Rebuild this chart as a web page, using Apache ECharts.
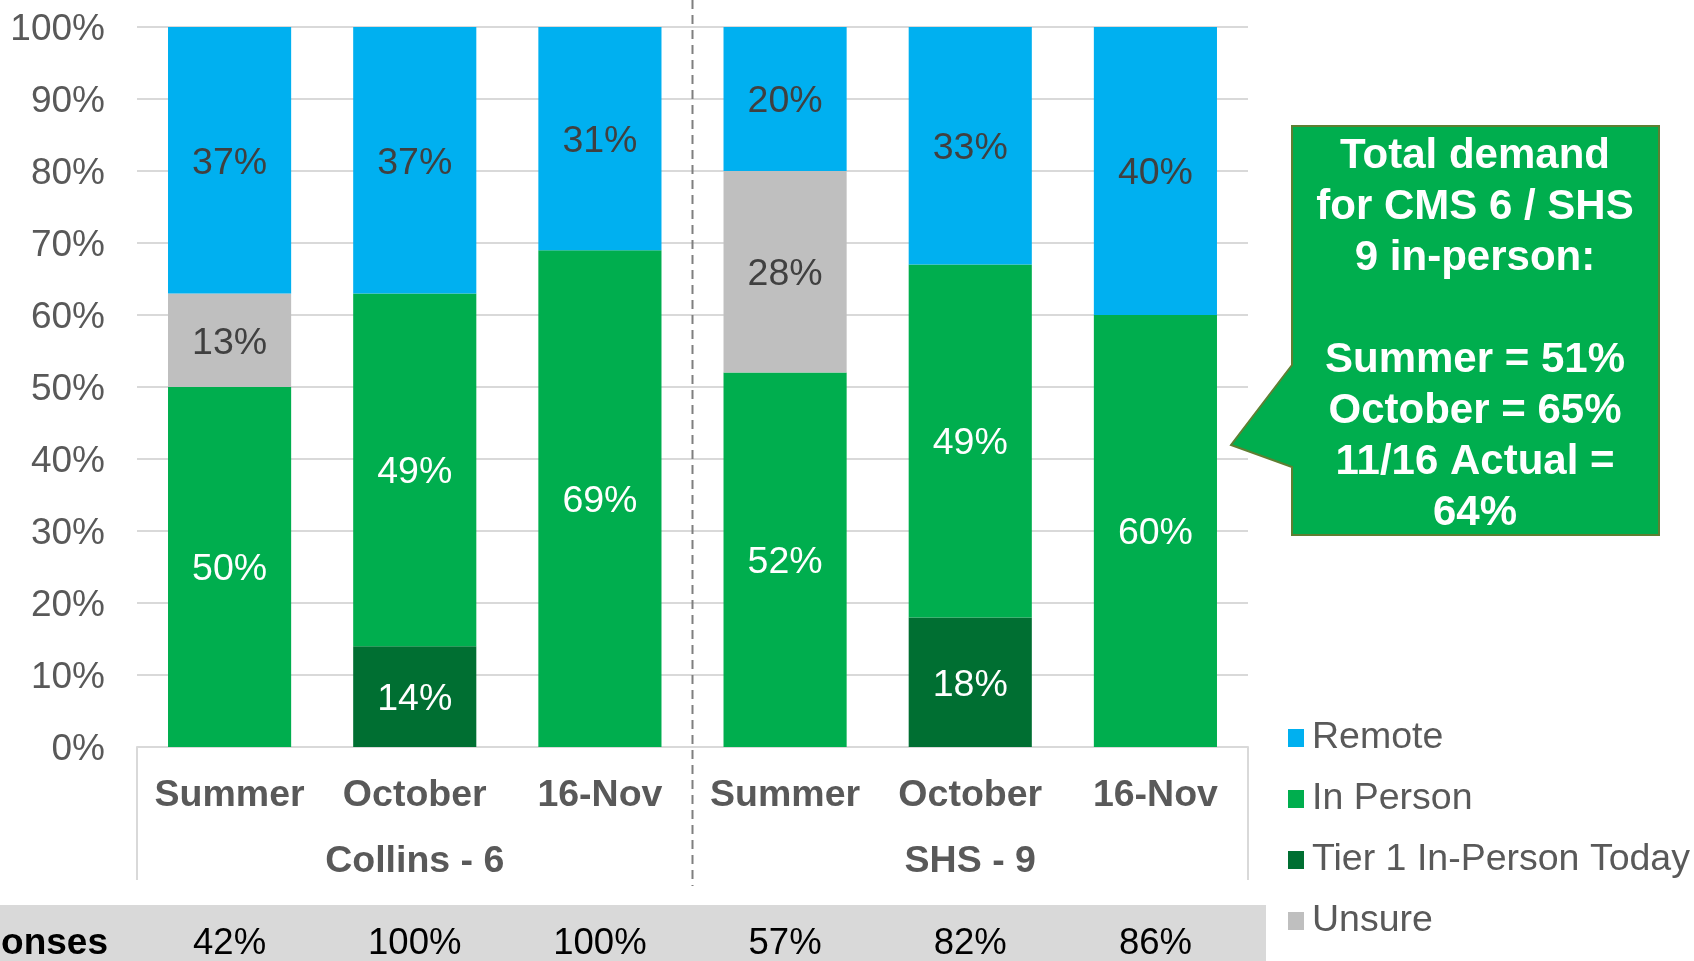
<!DOCTYPE html>
<html><head><meta charset="utf-8">
<script src="https://cdn.jsdelivr.net/npm/echarts@6/dist/echarts.min.js"></script>
<style>html,body{margin:0;padding:0;background:#fff}#c{width:1694px;height:961px}</style>
</head><body><div id="c"></div>
<script>
const categories = ['Summer','October','16-Nov','Summer','October','16-Nov'];
const groups = ['Collins - 6','SHS - 9'];
const tier1 = [null,14,null,null,18,null];
const inPerson = [50,49,69,52,49,60];
const unsure = [13,null,null,28,null,null];
const remote = [37,37,31,20,33,40];
const responses = ['42%','100%','100%','57%','82%','86%'];
const responsesLabel = '% Responses';
const calloutLines = ['Total demand','for CMS 6 / SHS','9 in-person:','','Summer = 51%','October = 65%','11/16 Actual =','64%'];

const FONT = "'Liberation Sans', Arial, sans-serif";
const chart = echarts.init(document.getElementById('c'), null, {renderer:'canvas'});
function lbl(color){return {show:true,position:'inside',formatter:'{c}%',color:color,fontSize:37.5,fontFamily:FONT,offset:[0,3]};}
const option = {
  animation:false,
  grid:{left:137,right:446,top:27,bottom:214,containLabel:false},
  legend:{
    orient:'vertical',left:1283,top:714,itemGap:23,itemWidth:16,itemHeight:18,icon:'rect',
    data:['Remote','In Person','Tier 1 In-Person Today','Unsure'],
    textStyle:{fontSize:37.5,color:'#595959',fontFamily:FONT,padding:[0,0,0,3]}
  },
  xAxis:[
    {type:'category',data:categories,gridIndex:0,
     axisLine:{show:true,lineStyle:{color:'#d9d9d9',width:2}},axisTick:{show:false},
     axisLabel:{fontSize:37.5,fontWeight:'bold',color:'#595959',fontFamily:FONT,margin:30,interval:0}},
    {type:'category',data:groups,gridIndex:0,position:'bottom',
     axisLine:{show:false},axisTick:{show:false},splitLine:{show:false},
     axisLabel:{fontSize:37.5,fontWeight:'bold',color:'#595959',fontFamily:FONT,margin:96,interval:0}}
  ],
  yAxis:{type:'value',min:0,max:100,interval:10,
    axisLine:{show:false},axisTick:{show:false},
    splitLine:{lineStyle:{color:'#d9d9d9',width:2}},
    axisLabel:{formatter:function(v){return '{a|'+v+'%}';},margin:32,
      rich:{a:{fontSize:37,color:'#595959',fontFamily:FONT,padding:[6,0,0,0]}}}},
  series:[
    {name:'Tier 1 In-Person Today',type:'bar',stack:'t',data:tier1,barCategoryGap:'33.5%',itemStyle:{color:'#006F32'},label:lbl('#ffffff')},
    {name:'In Person',type:'bar',stack:'t',data:inPerson,itemStyle:{color:'#00AE4E'},label:lbl('#ffffff')},
    {name:'Unsure',type:'bar',stack:'t',data:unsure,itemStyle:{color:'#BFBFBF'},label:lbl('#404040')},
    {name:'Remote',type:'bar',stack:'t',data:remote,itemStyle:{color:'#00B0F0'},label:lbl('#404040')}
  ]
};
chart.setOption(option);

const x0 = chart.convertToPixel({xAxisIndex:0},0);
const x1 = chart.convertToPixel({xAxisIndex:0},1);
const step = x1 - x0;
const leftEdge = x0 - step/2;
const rightEdge = leftEdge + step*categories.length;
const midEdge = leftEdge + step*3;
const yZero = chart.convertToPixel({yAxisIndex:0},0);

const g = [];
g.push({type:'rect',z:-1,shape:{x:0,y:905,width:1266,height:56},style:{fill:'#d9d9d9'}});
g.push({type:'text',style:{text:responsesLabel,x:108,y:944,align:'right',verticalAlign:'middle',font:'bold 37px '+FONT,fill:'#000'}});
responses.forEach((r,i)=>{
  g.push({type:'text',style:{text:r,x:chart.convertToPixel({xAxisIndex:0},i),y:944,align:'center',verticalAlign:'middle',font:'36.5px '+FONT,fill:'#000'}});
});
g.push({type:'line',shape:{x1:leftEdge,y1:yZero,x2:leftEdge,y2:880},style:{stroke:'#d9d9d9',lineWidth:2}});
g.push({type:'line',shape:{x1:rightEdge,y1:yZero,x2:rightEdge,y2:880},style:{stroke:'#d9d9d9',lineWidth:2}});
g.push({type:'line',z:10,shape:{x1:midEdge,y1:0,x2:midEdge,y2:886},style:{stroke:'#7f7f7f',lineWidth:2,lineDash:[9,6]}});
g.push({type:'polygon',shape:{points:[[1292,126],[1659,126],[1659,535],[1292,535],[1292,467],[1231,445],[1292,365]]},
  style:{fill:'#00AE4E',stroke:'#5E7F32',lineWidth:2}});
g.push({type:'text',style:{text:calloutLines.join('\n'),x:1475,y:335,align:'center',verticalAlign:'middle',font:'bold 42px '+FONT,lineHeight:51,fill:'#fff'}});
chart.setOption({graphic:g});
</script></body></html>
